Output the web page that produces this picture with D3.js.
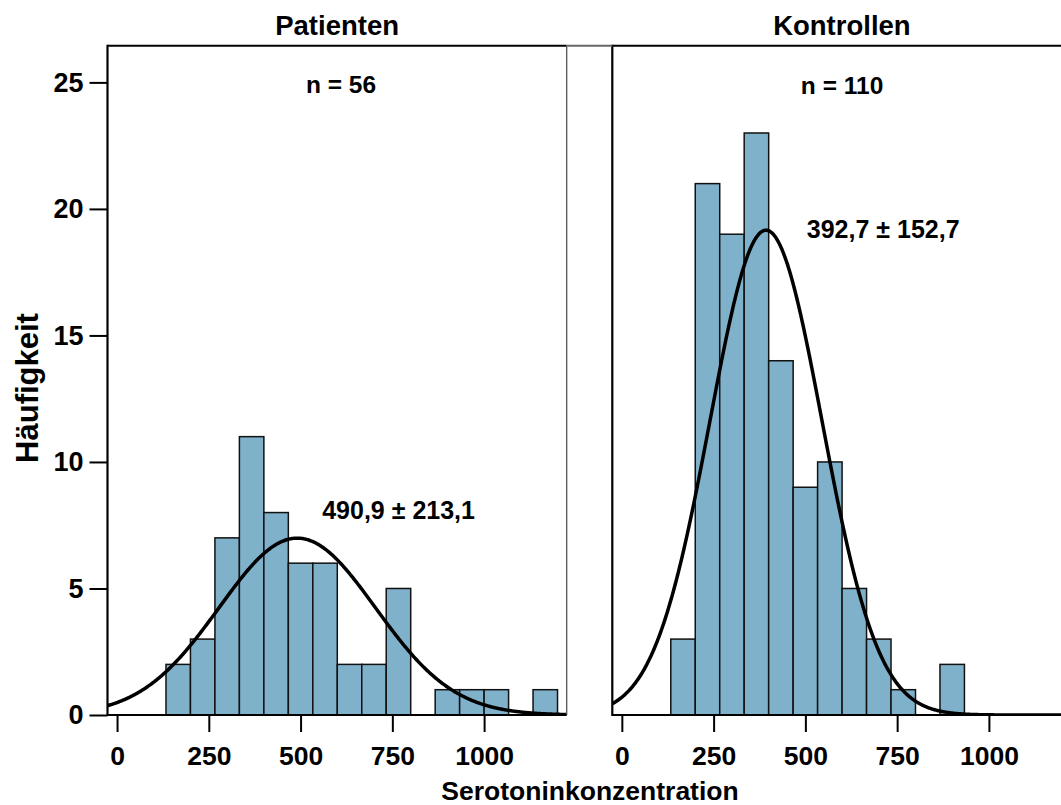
<!DOCTYPE html>
<html>
<head>
<meta charset="utf-8">
<script src="https://cdn.jsdelivr.net/npm/d3@7"></script>
<style>
  body { margin: 0; background: #fff; }
  svg { display: block; font-family: "Liberation Sans", Arial, sans-serif; font-weight: bold; }
</style>
</head>
<body>
<svg id="chart" width="1061" height="805"></svg>
<script>
// ---- data ----
const panelTitles = ["Patienten", "Kontrollen"];
const nLabels = ["n = 56", "n = 110"];
const statLabels = ["490,9 ± 213,1", "392,7 ± 152,7"];
const means = [490.9, 392.7];
const sds = [213.1, 152.7];
const ns = [56, 110];
const binWidth = 200 / 3;
const binStarts = [133.33, 200, 266.67, 333.33, 400, 466.67, 533.33, 600, 666.67, 733.33, 800, 866.67, 933.33, 1000, 1066.67, 1133.33];
const patientCounts = [2, 3, 7, 11, 8, 6, 6, 2, 2, 5, 0, 1, 1, 1, 0, 1];
const controlCounts = [3, 21, 19, 23, 14, 9, 10, 5, 3, 1, 0, 2];
const xTicks = [0, 250, 500, 750, 1000];
const yTicks = [0, 5, 10, 15, 20, 25];
// annotation anchor positions in data units
const statPos = [[767, 7.75], [712, 18.85]];
const nPos = [[610, 24.6], [600, 24.55]];

const countsByPanel = [patientCounts, controlCounts];

const svg = d3.select("#chart");
const W = 1061;
const yTop = 45.7, yBottom = 715;
const panelW = 459.2;
const panelX = [107.5, 612.3];
const xDomain = [-26, 1225];
const y = d3.scaleLinear().domain([0, 26.45]).range([yBottom, yTop]);

const barFill = "#80b1cb";
const FONT = "Liberation Sans, Arial, sans-serif";

panelX.forEach((px, p) => {
  const x = d3.scaleLinear().domain(xDomain).range([px, px + panelW]);
  const g = svg.append("g");
  const clipId = "clip" + p;
  svg.append("clipPath").attr("id", clipId)
    .append("rect").attr("x", px).attr("y", yTop).attr("width", Math.min(panelW, W - px)).attr("height", yBottom - yTop);

  const data = countsByPanel[p].map((c, i) => ({ x0: binStarts[i], c }));
  g.selectAll("rect.bar").data(data.filter(d => d.c > 0)).enter().append("rect")
    .attr("class", "bar")
    .attr("x", d => x(d.x0))
    .attr("width", d => x(d.x0 + binWidth) - x(d.x0))
    .attr("y", d => y(d.c))
    .attr("height", d => y(0) - y(d.c))
    .attr("fill", barFill)
    .attr("stroke", "#111")
    .attr("stroke-width", 1.5);

  // fitted normal curve from mean, sd, n
  const m = means[p], s = sds[p], n = ns[p];
  const pts = d3.range(xDomain[0], xDomain[1] + 1, 2).map(v =>
    [v, n * binWidth * Math.exp(-0.5 * ((v - m) / s) ** 2) / (s * Math.sqrt(2 * Math.PI))]);
  g.append("path")
    .datum(pts)
    .attr("clip-path", `url(#${clipId})`)
    .attr("d", d3.line().x(d => x(d[0])).y(d => y(d[1])))
    .attr("fill", "none")
    .attr("stroke", "#000")
    .attr("stroke-width", 3.5);

  // frame: top
  g.append("line").attr("x1", px).attr("x2", Math.min(px + panelW, W)).attr("y1", yTop).attr("y2", yTop)
    .attr("stroke", "#000").attr("stroke-width", 2);
  // right border (gray)
  if (px + panelW < W) {
    g.append("line").attr("x1", px + panelW).attr("x2", px + panelW).attr("y1", yTop).attr("y2", yBottom)
      .attr("stroke", "#555").attr("stroke-width", 1.3);
  }

  // x axis
  const xAxis = d3.axisBottom(x).tickValues(xTicks).tickFormat(d3.format("d"))
    .tickSize(17).tickPadding(14).tickSizeOuter(0);
  const xa = g.append("g").attr("transform", `translate(0,${yBottom})`).call(xAxis);
  xa.select(".domain").attr("stroke", "#000").attr("stroke-width", 2.2)
    .attr("d", `M${px},0H${Math.min(px + panelW, W)}`);
  xa.selectAll(".tick line").attr("stroke", "#000").attr("stroke-width", 2);
  xa.selectAll(".tick text").attr("font-size", 26.5).attr("font-weight", "bold")
    .attr("font-family", FONT).attr("fill", "#000");

  // y axis line (left of each panel)
  g.append("line").attr("x1", px).attr("x2", px).attr("y1", yTop - 1).attr("y2", yBottom + 1)
    .attr("stroke", "#000").attr("stroke-width", 2.2);

  if (p === 0) {
    const yAxis = d3.axisLeft(y).tickValues(yTicks).tickFormat(d3.format("d"))
      .tickSize(18).tickPadding(6).tickSizeOuter(0);
    const ya = g.append("g").attr("transform", `translate(${px},0)`).call(yAxis);
    ya.select(".domain").remove();
    ya.selectAll(".tick line").attr("stroke", "#000").attr("stroke-width", 2);
    ya.selectAll(".tick text").attr("font-size", 27).attr("font-weight", "bold")
      .attr("font-family", FONT).attr("fill", "#000");
  }

  // titles
  svg.append("text").attr("x", px + panelW / 2).attr("y", 35)
    .attr("text-anchor", "middle").attr("font-size", 27.5).text(panelTitles[p]);
  svg.append("text").attr("x", x(nPos[p][0])).attr("y", y(nPos[p][1]))
    .attr("text-anchor", "middle").attr("font-size", 24.5).text(nLabels[p]);
  svg.append("text").attr("x", x(statPos[p][0])).attr("y", y(statPos[p][1]))
    .attr("text-anchor", "middle").attr("font-size", 25).text(statLabels[p]);
});

// gray connector on top between panels
svg.append("line").attr("x1", panelX[0] + panelW).attr("x2", panelX[1]).attr("y1", yTop).attr("y2", yTop)
  .attr("stroke", "#666").attr("stroke-width", 2);

// axis titles
svg.append("text").attr("x", 590).attr("y", 800).attr("text-anchor", "middle")
  .attr("font-size", 26.5).text("Serotoninkonzentration");
svg.append("text").attr("transform", "translate(38,388) rotate(-90)").attr("text-anchor", "middle")
  .attr("font-size", 31).text("Häufigkeit");
</script>
</body>
</html>
